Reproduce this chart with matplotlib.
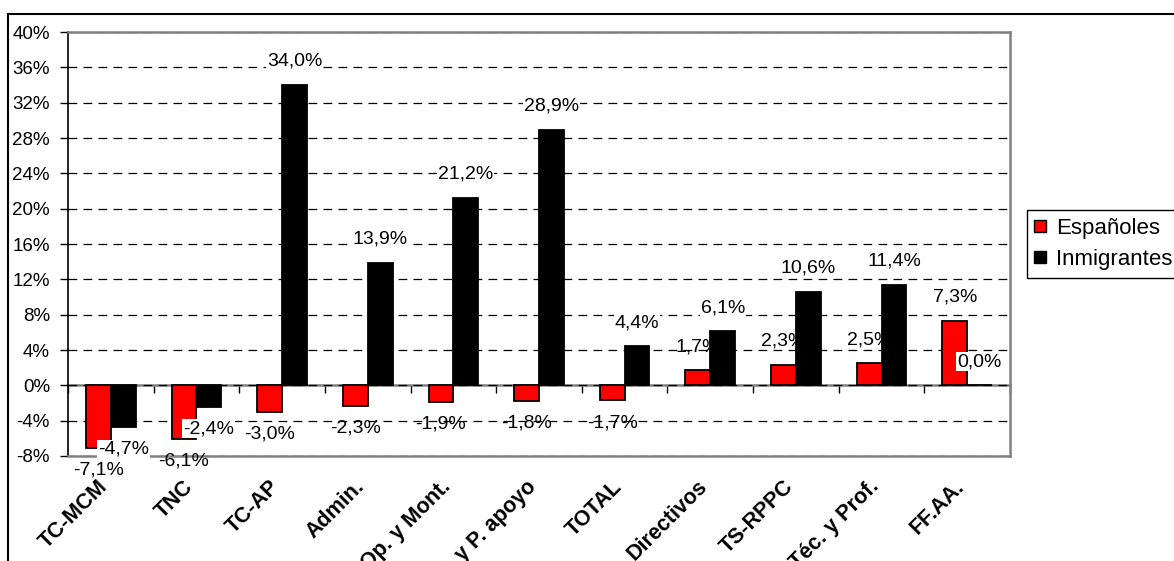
import numpy as np
import matplotlib
matplotlib.use('Agg')
import matplotlib.pyplot as plt
import matplotlib.transforms as mtransforms
from matplotlib.patches import Rectangle
from matplotlib.lines import Line2D

plt.rcParams['font.family'] = ['Liberation Sans', 'DejaVu Sans']

categorias = ['TC-MCM', 'TNC', 'TC-AP', 'Admin.', 'Op. y Mont.', 'Serv. y P. apoyo',
              'TOTAL', 'Directivos', 'TS-RPPC', 'Téc. y Prof.', 'FF.AA.']
espanoles = [-7.1, -6.1, -3.0, -2.3, -1.9, -1.8, -1.7, 1.7, 2.3, 2.5, 7.3]
inmigrantes = [-4.7, -2.4, 34.0, 13.9, 21.2, 28.9, 4.4, 6.1, 10.6, 11.4, 0.0]
yticks = np.arange(-8, 41, 4)

W, H = 1174, 561
fig = plt.figure(figsize=(W / 100, H / 100), dpi=100)
ax = fig.add_axes([68 / W, 1 - 456 / H, (1010 - 68) / W, (456 - 32) / H])

x = np.arange(len(categorias))
bw = 0.29
ymin, ymax = -8, 40

# bars + labels, ordered so black bars cover red labels
ax.bar(x - bw / 2, espanoles, bw, color='#ff0000', edgecolor='black', linewidth=1.3, zorder=2)
for xi, v in zip(x - bw / 2, espanoles):
    off = 17 if v >= 0 else -16
    ax.annotate(f'{v:.1f}%'.replace('.', ','), (xi, v), xytext=(0, off),
                textcoords='offset points', ha='center', va='center',
                fontsize=14, zorder=3, annotation_clip=False)
ax.bar(x + bw / 2, inmigrantes, bw, color='black', edgecolor='black', linewidth=1.3, zorder=4)
for xi, v in zip(x + bw / 2, inmigrantes):
    off = 17 if v >= 0 else -16
    ax.annotate(f'{v:.1f}%'.replace('.', ','), (xi, v), xytext=(0, off),
                textcoords='offset points', ha='center', va='center',
                fontsize=14, zorder=5, annotation_clip=False,
                bbox=dict(boxstyle='square,pad=0.05', fc='white', ec='none'))

ax.set_xlim(-0.5, len(categorias) - 0.5)
ax.set_ylim(ymin, ymax)
ax.set_yticks(yticks)
ax.set_yticklabels([f'{t}%' for t in yticks], fontsize=13.5)
ax.tick_params(axis='y', direction='out', length=6, width=1, pad=7)

ax.set_axisbelow(True)
ax.yaxis.grid(True, linestyle=(0, (7, 5)), color='black', linewidth=0.9)

for s in ['top', 'right', 'bottom']:
    ax.spines[s].set_color('#808080')
    ax.spines[s].set_linewidth(1.8)
ax.spines['left'].set_color('black')
ax.spines['left'].set_linewidth(1.2)

# category labels at bottom of plot area
ax.set_xticks(x)
ax.set_xticklabels(categorias, rotation=45, ha='right', va='center',
                   rotation_mode='anchor', fontweight='bold', fontsize=15.5)
ax.tick_params(axis='x', length=0, pad=20)
shift = mtransforms.ScaledTranslation(-6 / 100, 0, fig.dpi_scale_trans)
for lab in ax.get_xticklabels():
    lab.set_transform(lab.get_transform() + shift)

# zero line with boundary ticks
sec = ax.secondary_xaxis((0 - ymin) / (ymax - ymin))
sec.set_xticks(np.arange(-0.5, len(categorias), 1))
sec.set_xticklabels([])
sec.tick_params(direction='out', length=6, width=1, color='black')
sec.spines['bottom'].set_color('#808080')
sec.spines['bottom'].set_linewidth(1.8)

# legend
handles = [Line2D([], [], marker='s', linestyle='none', markersize=9,
                  markerfacecolor='#ff0000', markeredgecolor='black', markeredgewidth=1),
           Line2D([], [], marker='s', linestyle='none', markersize=9,
                  markerfacecolor='black', markeredgecolor='black')]
leg = fig.legend(handles, ['Españoles', 'Inmigrantes'], loc='upper left',
                 bbox_to_anchor=(1027 / W, 1 - 210 / H), fontsize=16,
                 frameon=True, fancybox=False, edgecolor='black', framealpha=1,
                 handlelength=0.5, handletextpad=0.45, labelspacing=0.45,
                 borderpad=0.35, borderaxespad=0)
leg.get_frame().set_linewidth(1)

# outer chart frame (cropped)
fig.add_artist(Rectangle((8 / W, -0.2), 1.0, 1 - 14 / H + 0.2, transform=fig.transFigure,
                         fill=False, edgecolor='black', linewidth=1.5))

fig.savefig('out.png', dpi=100)
